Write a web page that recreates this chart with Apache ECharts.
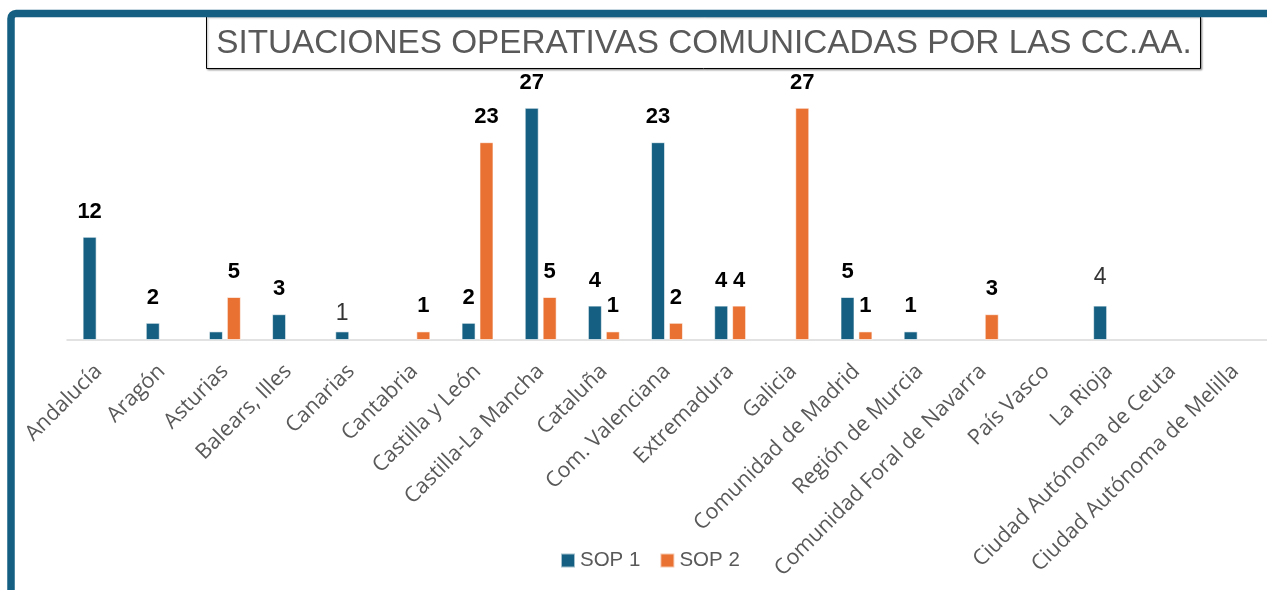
<!DOCTYPE html>
<html>
<head>
<meta charset="utf-8">
<title>Situaciones operativas</title>
<script src="https://cdn.jsdelivr.net/npm/echarts@6/dist/echarts.min.js"></script>
<style>
  html, body { margin: 0; padding: 0; background: #fff; }
  #box { width: 1267px; height: 590px; }
</style>
</head>
<body>
<div id="box"></div>
<script>
// datos
var comunidades = [
  "Andalucía", "Aragón", "Asturias", "Balears, Illes", "Canarias", "Cantabria",
  "Castilla y León", "Castilla-La Mancha", "Cataluña", "Com. Valenciana",
  "Extremadura", "Galicia", "Comunidad de Madrid", "Región de Murcia",
  "Comunidad Foral de Navarra", "País Vasco", "La Rioja",
  "Ciudad Autónoma de Ceuta", "Ciudad Autónoma de Melilla"
];
var sop1 = [12, 2, 1, 3, 1, 0, 2, 27, 4, 23, 4, 0, 5, 1, 0, 0, 4, 0, 0];
var sop2 = [0, 0, 5, 0, 0, 1, 23, 5, 1, 2, 4, 27, 1, 0, 3, 0, 0, 0, 0];
var tituloGrafico = "SITUACIONES OPERATIVAS COMUNICADAS POR LAS CC.AA.";

var azul = "#156082";
var naranja = "#E97132";

// etiquetas que en el original no van en negrita / no se muestran
var etiquetaFina = { 4: 6, 16: 16 };
var sinEtiqueta = { 2: true };

function buildData(values, isSop1) {
  return values.map(function (v, i) {
    if (v === 0) return "-";
    var item = { value: v };
    if (isSop1 && sinEtiqueta[i]) {
      item.label = { show: false };
    } else if (isSop1 && etiquetaFina[i] !== undefined) {
      item.label = {
        fontWeight: "normal",
        fontSize: 23,
        color: "#333",
        distance: etiquetaFina[i]
      };
    }
    return item;
  });
}

var myChart = echarts.init(document.getElementById("box"));
var option = {
  animation: false,
  textStyle: { fontFamily: "Liberation Sans, Arial, sans-serif" },
  graphic: [
    {
      type: "rect",
      shape: { x: 11, y: 13.5, width: 1400, height: 800, r: 5 },
      style: { fill: "none", stroke: azul, lineWidth: 7.5 },
      z: 10
    },
    {
      type: "rect",
      shape: { x: 206.5, y: 16.5, width: 994, height: 52 },
      style: {
        fill: "#fff",
        stroke: "#000",
        lineWidth: 1,
        shadowColor: "rgba(0,0,0,0.35)",
        shadowBlur: 2,
        shadowOffsetX: 1,
        shadowOffsetY: 1
      },
      z: 5
    },
    {
      type: "text",
      x: 704,
      y: 44,
      style: {
        text: tituloGrafico,
        fill: "#595959",
        font: "33.3px Liberation Sans, Arial, sans-serif",
        textAlign: "center",
        textVerticalAlign: "middle"
      },
      z: 6
    }
  ],
  legend: {
    data: ["SOP 1", "SOP 2"],
    left: 555,
    top: 545,
    icon: "rect",
    itemWidth: 14,
    itemHeight: 14,
    itemGap: 19,
    textStyle: { color: "#595959", fontSize: 20.5 }
  },
  grid: {
    left: 67,
    top: 82,
    width: 1209,
    height: 258
  },
  xAxis: {
    type: "category",
    data: comunidades,
    axisLine: { lineStyle: { color: "#d9d9d9", width: 1.5 } },
    axisTick: { show: false },
    axisLabel: {
      interval: 0,
      rotate: 45,
      margin: 28,
      color: "#595959",
      fontFamily: "Open Sans",
      fontSize: 21.5
    }
  },
  yAxis: {
    type: "value",
    min: 0,
    max: 30,
    show: false,
    splitLine: { show: false }
  },
  series: [
    {
      name: "SOP 1",
      type: "bar",
      data: buildData(sop1, true),
      barWidth: 14,
      barGap: "28%",
      itemStyle: { color: azul, borderColor: "rgba(255,255,255,0.6)", borderWidth: 1 },
      label: {
        show: true,
        position: "top",
        distance: 14,
        color: "#000",
        fontWeight: "bold",
        fontSize: 22
      }
    },
    {
      name: "SOP 2",
      type: "bar",
      data: buildData(sop2, false),
      barWidth: 14,
      itemStyle: { color: naranja, borderColor: "rgba(255,255,255,0.6)", borderWidth: 1 },
      label: {
        show: true,
        position: "top",
        distance: 14,
        color: "#000",
        fontWeight: "bold",
        fontSize: 22
      }
    }
  ]
};
myChart.setOption(option);
</script>
</body>
</html>
